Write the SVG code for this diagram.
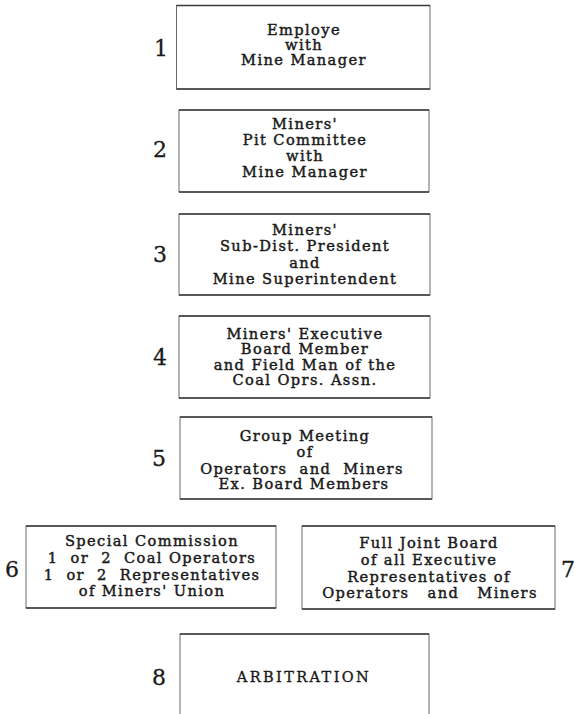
<svg xmlns="http://www.w3.org/2000/svg" width="579" height="714" viewBox="0 0 579 714">
<style>
  .box { fill: #ffffff; stroke: #6a6a6a; stroke-width: 1; }
  .edge { stroke: #3a3a3a; stroke-width: 1.6; fill: none; }
  .t { font-family: "DejaVu Serif", "Liberation Serif", serif; font-size: 14.6px; letter-spacing: 1.4px; fill: #1a1a1a; stroke: #1a1a1a; stroke-width: 0.45; text-anchor: middle; white-space: pre; }
  .num { font-family: "DejaVu Serif", "Liberation Serif", serif; font-size: 22px; fill: #1a1a1a; stroke: #1a1a1a; stroke-width: 0.3; text-anchor: middle; }
  .caps { font-size: 14.5px; letter-spacing: 2.4px; stroke-width: 0.35; }
</style>
<rect width="579" height="714" fill="#ffffff"/>
<g id="connectors"/>

<g id="node1">
  <rect class="box" x="176.5" y="5.5" width="253.5" height="83.5"/>
  <path class="edge" d="M176.5 5.5H430M176.5 89H430"/>
  <text class="num" x="161" y="56">1</text>
  <text class="t" x="304" y="35">Employe</text>
  <text class="t" x="304" y="50">with</text>
  <text class="t" x="304" y="65">Mine Manager</text>
</g>

<g id="node2">
  <rect class="box" x="179" y="110" width="250" height="82"/>
  <path class="edge" d="M179 110H429M179 192H429"/>
  <text class="num" x="160" y="157">2</text>
  <text class="t" x="305" y="129">Miners'</text>
  <text class="t" x="305" y="145">Pit Committee</text>
  <text class="t" x="305" y="161">with</text>
  <text class="t" x="305" y="177">Mine Manager</text>
</g>

<g id="node3">
  <rect class="box" x="179" y="214" width="251" height="81"/>
  <path class="edge" d="M179 214H430M179 295H430"/>
  <text class="num" x="160" y="262">3</text>
  <text class="t" x="305" y="235">Miners'</text>
  <text class="t" x="305" y="251">Sub-Dist. President</text>
  <text class="t" x="305" y="268">and</text>
  <text class="t" x="305" y="284">Mine Superintendent</text>
</g>

<g id="node4">
  <rect class="box" x="179" y="316" width="251" height="82"/>
  <path class="edge" d="M179 316H430M179 398H430"/>
  <text class="num" x="160" y="365">4</text>
  <text class="t" x="305" y="339">Miners' Executive</text>
  <text class="t" x="305" y="354">Board Member</text>
  <text class="t" x="305" y="370">and Field Man of the</text>
  <text class="t" x="305" y="385">Coal Oprs. Assn.</text>
</g>

<g id="node5">
  <rect class="box" x="180" y="417" width="252" height="82"/>
  <path class="edge" d="M180 417H432M180 499H432"/>
  <text class="num" x="159" y="466">5</text>
  <text class="t" x="305" y="441">Group Meeting</text>
  <text class="t" x="305" y="457">of</text>
  <text class="t" x="302" y="474">Operators  and  Miners</text>
  <text class="t" x="304" y="489">Ex. Board Members</text>
</g>

<g id="node6">
  <rect class="box" x="26" y="526" width="250" height="82"/>
  <path class="edge" d="M26 526H276M26 608H276"/>
  <text class="num" x="12" y="577">6</text>
  <text class="t" x="152" y="546">Special Commission</text>
  <text class="t" x="152" y="563">1  or  2  Coal Operators</text>
  <text class="t" x="152" y="580">1  or  2  Representatives</text>
  <text class="t" x="152" y="596">of Miners' Union</text>
</g>

<g id="node7">
  <rect class="box" x="302" y="526" width="253" height="83"/>
  <path class="edge" d="M302 526H555M302 609H555"/>
  <text class="num" x="568" y="577">7</text>
  <text class="t" x="429" y="548">Full Joint Board</text>
  <text class="t" x="429" y="565">of all Executive</text>
  <text class="t" x="429" y="582">Representatives of</text>
  <text class="t" x="430" y="598">Operators   and   Miners</text>
</g>

<g id="node8">
  <rect class="box" x="180" y="634" width="249" height="90"/>
  <path class="edge" d="M180 634H429"/>
  <text class="num" x="159" y="685">8</text>
  <text class="t caps" x="304" y="682">ARBITRATION</text>
</g>
</svg>
